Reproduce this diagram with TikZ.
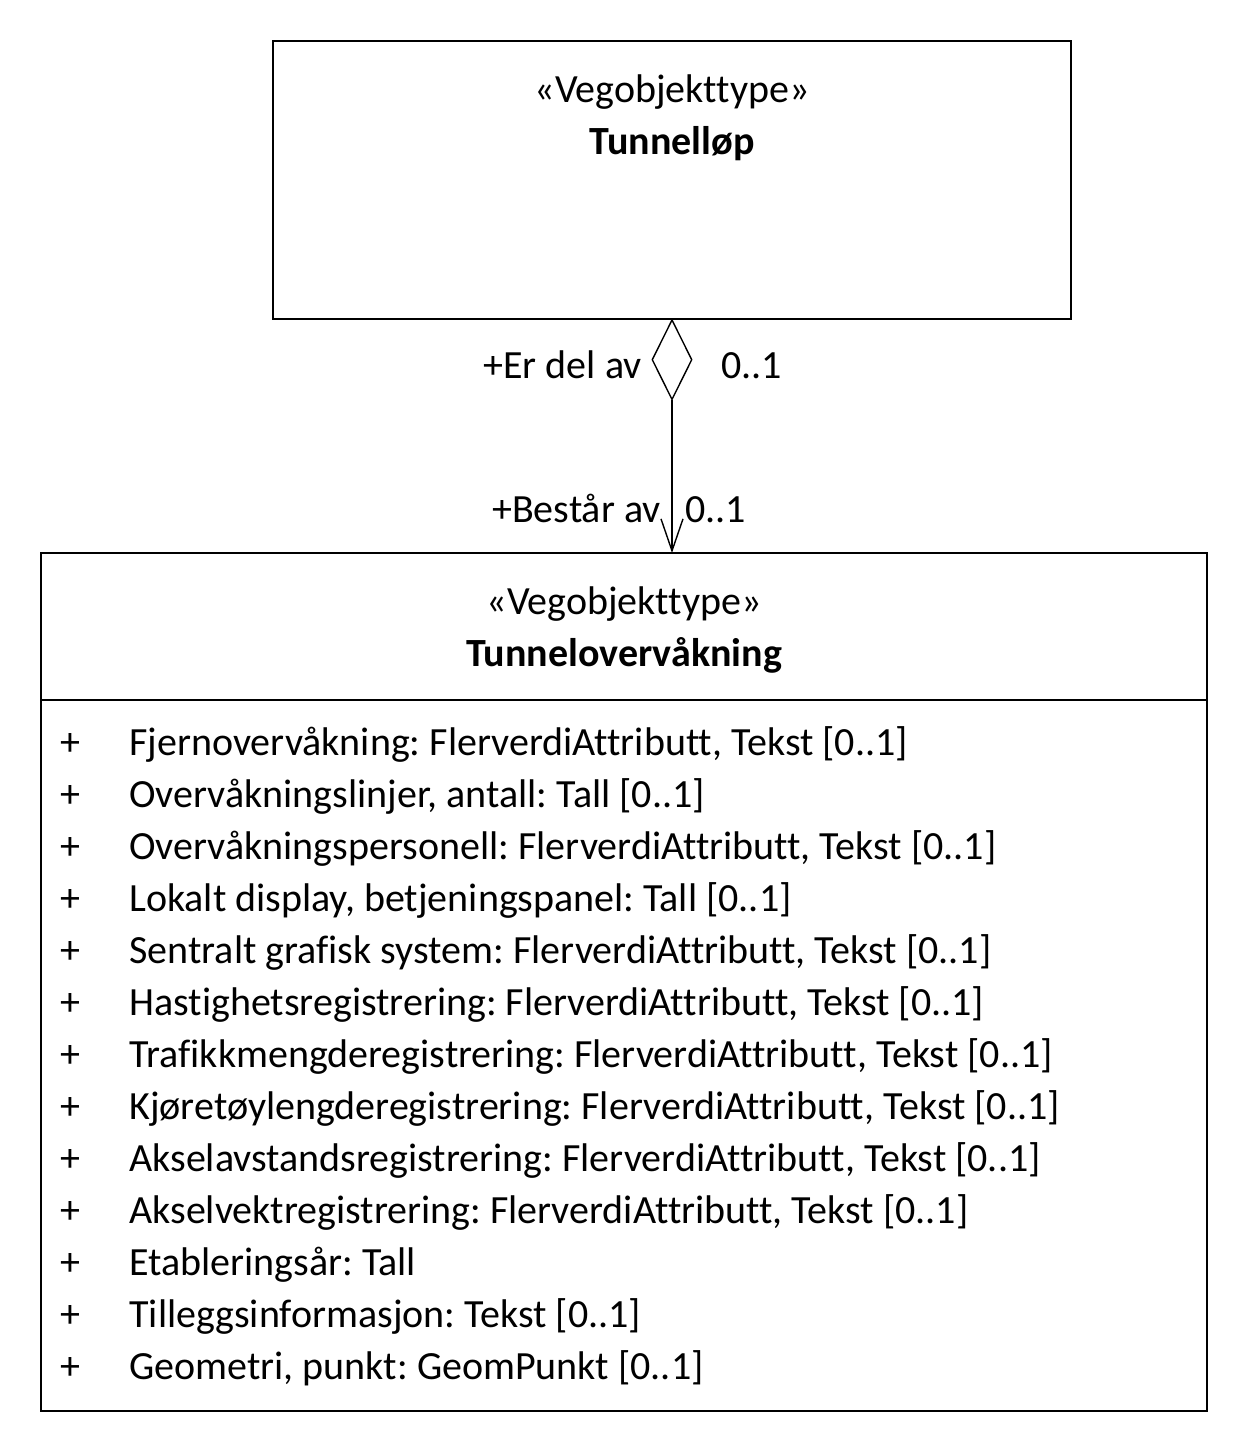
\documentclass[tikz,border=0pt]{standalone}
\usepackage{fontspec}
\setmainfont[Ligatures=NoCommon]{Carlito}
\frenchspacing
\usetikzlibrary{arrows.meta,shapes.geometric}

\tikzset{
  lbl/.style={font=\fontsize{20}{22}\selectfont,inner sep=0pt},
  title/.style={lbl,font=\fontsize{20}{22}\selectfont\bfseries},
}

\begin{document}
\begin{tikzpicture}[x=0.5pt,y=-0.5pt]
\useasboundingbox (0,0) rectangle (1248,1452);
%\draw[help lines] (0,0) grid[step=50] (1248,1452);

% Tunnelløp
\draw[line width=0.7pt] (273,41) rectangle (1071,319);
\coordinate (tl) at (672,319);
\node[lbl,anchor=base] (st1) at (672,102) {«Vegobjekttype»};
\node[title,anchor=base] (nm1) at (672,154) {Tunnelløp};

% Tunnelovervåkning
\draw[line width=0.7pt] (41,553) rectangle (1207,1411);
\draw[line width=0.7pt] (41,700) -- (1207,700);
\coordinate (to) at (672,553);
\node[lbl,anchor=base] (st2) at (624,614) {«Vegobjekttype»};
\node[title,anchor=base] (nm2) at (624,666) {Tunnelovervåkning};

\foreach \a [count=\i from 0] in {
  {Fjernovervåkning: FlerverdiAttributt, Tekst [0..1]},
  {Overvåkningslinjer, antall: Tall [0..1]},
  {Overvåkningspersonell: FlerverdiAttributt, Tekst [0..1]},
  {Lokalt display, betjeningspanel: Tall [0..1]},
  {Sentralt grafisk system: FlerverdiAttributt, Tekst [0..1]},
  {Hastighetsregistrering: FlerverdiAttributt, Tekst [0..1]},
  {Trafikkmengderegistrering: FlerverdiAttributt, Tekst [0..1]},
  {Kjøretøylengderegistrering: FlerverdiAttributt, Tekst [0..1]},
  {Akselavstandsregistrering: FlerverdiAttributt, Tekst [0..1]},
  {Akselvektregistrering: FlerverdiAttributt, Tekst [0..1]},
  {Etableringsår: Tall},
  {Tilleggsinformasjon: Tekst [0..1]},
  {Geometri, punkt: GeomPunkt [0..1]}}{
  \node[lbl,anchor=base] (pl\i) at (70,755+52*\i) {+};
  \node[lbl,anchor=base west] (at\i) at (129,755+52*\i) {\a};
}

% aggregation
\node[draw,diamond,line width=0.7pt,minimum width=40*0.5pt,minimum height=80*0.5pt,inner sep=0pt,anchor=north] (dia) at (tl) {};
\draw[line width=0.7pt,-{Straight Barb[length=16pt,width=11pt,line width=0.7pt]}] (dia.south) -- (to);

\node[lbl,anchor=base east] (r1) at (642,378) {+Er del av};
\node[lbl,anchor=base west] (m1) at (721,378) {0..1};
\node[lbl,anchor=base east] (r2) at (661,522) {+Består av};
\node[lbl,anchor=base west] (m2) at (685,522) {0..1};
\end{tikzpicture}
\end{document}
